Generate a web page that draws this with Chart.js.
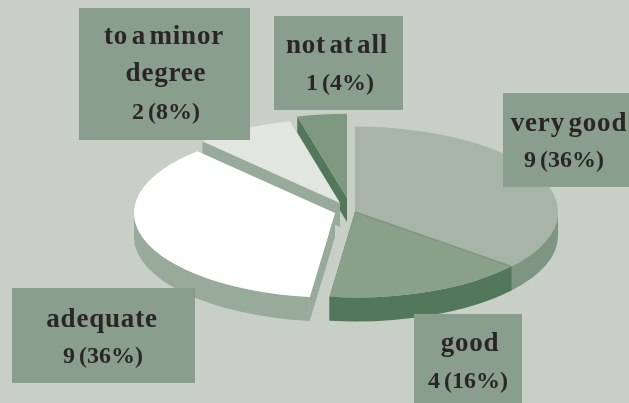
<!DOCTYPE html>
<html><head><meta charset="utf-8">
<style>html,body{margin:0;padding:0;background:#c8cfc7;overflow:hidden}canvas{display:block}</style>
<script src="https://cdn.jsdelivr.net/npm/chart.js@4"></script>
</head><body><canvas id="c" width="629" height="403"></canvas>
<script>
const categories = ['very good', 'good', 'adequate', 'to a minor degree', 'not at all'];
const counts = [9, 4, 9, 2, 1];
const topColors = ['#a9b4a8', '#89a089', '#ffffff', '#e1e6e0', '#7f9880'];
const wallColors = ['#7e9581', '#52775a', '#98aa9a', '#98aa9a', '#52775a'];

// Layout of the projected pie
const tilt = 0.421, depth = 24, pieRadius = 203;
const sliceCentres = [[355,212],[355,212],[335,213],[340,203],[347,198]];
const sliceScale = [1,1,0.99,0.99,0.985];
const boxFill = '#8a9e8d', textFill = '#2a2627';
const boxes = [
  {x:503,y:93,w:126,h:94,lines:[[569,131],[564,167]]},
  {x:414,y:314,w:108,h:89,lines:[[470,351],[468,388]]},
  {x:12,y:288,w:183,h:95,lines:[[102,327],[103,363]]},
  {x:79,y:8,w:171,h:132,lines:[[164,44],[166,81],[166,119]]},
  {x:274,y:16,w:129,h:94,lines:[[337,53],[340,90]]}
];
const wrap = {'to a minor degree':['to a minor','degree']};

function quad(ctx, x1, y1, x2, y2, fill){
  ctx.fillStyle = fill;
  ctx.beginPath();
  ctx.moveTo(x1,y1); ctx.lineTo(x2,y2); ctx.lineTo(x2,y2+depth); ctx.lineTo(x1,y1+depth);
  ctx.closePath(); ctx.fill();
}
function wall(ctx, cx, cy, r, a, b, fill){
  const s = Math.max(a, 0), e = Math.min(b, Math.PI);
  if (e <= s) return;
  ctx.fillStyle = fill;
  ctx.beginPath();
  ctx.ellipse(cx, cy, r, r*tilt, 0, s, e, false);
  ctx.ellipse(cx, cy+depth, r, r*tilt, 0, e, s, true);
  ctx.closePath(); ctx.fill();
}
const pie3d = {
  id:'pie3d',
  beforeDatasetDraw(chart){
    const ctx = chart.ctx, arcs = chart.getDatasetMeta(0).data;
    const order = [0,1,4,3,2];
    order.forEach(i => {
      const el = arcs[i];
      const p = el.getProps(['x','y','startAngle','endAngle','outerRadius'], true);
      const [cx,cy] = sliceCentres[i], k = sliceScale[i], r = p.outerRadius*k;
      const pt = a => [cx + r*Math.cos(a), cy + r*tilt*Math.sin(a)];
      const [sx,sy] = pt(p.startAngle), [ex,ey] = pt(p.endAngle);
      quad(ctx, cx, cy, sx, sy, wallColors[i]);
      quad(ctx, cx, cy, ex, ey, wallColors[i]);
      const TAU = Math.PI*2;
      wall(ctx, cx, cy, r, p.startAngle, p.endAngle, wallColors[i]);
      wall(ctx, cx, cy, r, p.startAngle+TAU, p.endAngle+TAU, wallColors[i]);
      wall(ctx, cx, cy, r, p.startAngle-TAU, p.endAngle-TAU, wallColors[i]);
      ctx.save();
      ctx.translate(cx, cy);
      ctx.scale(k, tilt*k);
      ctx.translate(-p.x, -p.y);
      el.draw(ctx, chart.chartArea);
      ctx.restore();
      if (i === 1) {
        ctx.strokeStyle = '#7f9680'; ctx.lineWidth = 1.5;
        ctx.beginPath(); ctx.moveTo(cx,cy); ctx.lineTo(sx,sy); ctx.stroke();
      }
    });
    return false;
  },
  afterDatasetsDraw(chart){
    const ctx = chart.ctx, total = counts.reduce((a,b)=>a+b,0);
    ctx.save();
    ctx.textAlign = 'center'; ctx.textBaseline = 'alphabetic';
    [0,1,2,3,4].forEach(i => {
      const b = boxes[i], name = categories[i];
      ctx.fillStyle = boxFill;
      ctx.fillRect(b.x, b.y, b.w, b.h);
      const lines = (wrap[name] || [name]).concat(counts[i] + ' (' + Math.round(counts[i]/total*100) + '%)');
      ctx.fillStyle = textFill;
      lines.forEach((t, k) => {
        const isCount = k === lines.length-1;
        ctx.font = isCount ? 'bold 24px "Liberation Serif"' : 'bold 27px "Liberation Serif"';
        ctx.letterSpacing = isCount ? '0px' : '0.8px';
        ctx.wordSpacing = isCount ? '-2px' : '-4px';
        ctx.fillText(t, b.lines[k][0], b.lines[k][1]);
      });
    });
    ctx.restore();
  }
};
new Chart(document.getElementById('c'), {
  type:'pie',
  data:{labels:categories, datasets:[{data:counts, backgroundColor:topColors, borderWidth:0, radius:pieRadius}]},
  options:{responsive:false, animation:false, events:[], layout:{padding:0},
    plugins:{legend:{display:false}, tooltip:{enabled:false}}},
  plugins:[pie3d]
});
</script></body></html>
